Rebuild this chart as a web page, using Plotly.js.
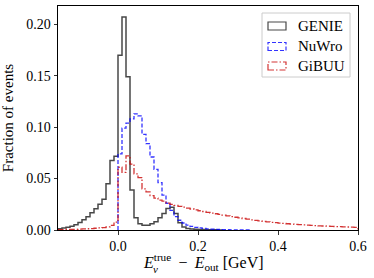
<!DOCTYPE html>
<html>
<head>
<meta charset="utf-8">
<script src="https://cdn.plot.ly/plotly-3.0.1.min.js"></script>
<style>html,body{margin:0;padding:0;background:#fff;}#chart{width:374px;height:278px;}</style>
</head>
<body>
<div id="chart"></div>
<script>
// Histogram binning (75 bins of width 0.01 from -0.15 to 0.60)
const binStart = -0.15;
const binWidth = 0.01;
const seriesNames = ["GENIE", "NuWro", "GiBUU"];

// Fraction of events per bin
const genie = [
  0.0012, 0.0020, 0.0027, 0.0037, 0.0050, 0.0073, 0.0100, 0.0130, 0.0167, 0.0206,
  0.0250, 0.0300, 0.0450, 0.0675, 0.0717,
  0.170, 0.207, 0.149, 0.039, 0.012, 0.006, 0.0045, 0.0045, 0.006, 0.008,
  0.012, 0.016, 0.021, 0.022, 0.016, 0.007, 0.003, 0.0015, 0.0010, 0.0007,
  0.0005, 0.0004, 0.0003, 0.0002, 0.0002, 0.0001, 0, 0, 0, 0,
  0, 0, 0, 0, 0, 0, 0, 0, 0, 0,
  0, 0, 0, 0, 0, 0, 0, 0, 0, 0,
  0, 0, 0, 0, 0, 0, 0, 0, 0, 0
];
const nuwro = [
  0, 0, 0, 0, 0, 0, 0, 0, 0, 0, 0, 0, 0, 0, 0,
  0.074, 0.099, 0.104, 0.108, 0.113, 0.111, 0.093, 0.084, 0.071, 0.059,
  0.046, 0.034, 0.026, 0.019, 0.013, 0.0095, 0.0068, 0.0048, 0.0035, 0.0026,
  0.0020, 0.0015, 0.0011, 0.0008, 0.0006, 0.0005, 0.0004, 0.0003, 0.0002, 0.0002,
  0.0001, 0.0001, 0.0001, 0, 0, 0, 0, 0, 0, 0,
  0, 0, 0, 0, 0, 0, 0, 0, 0, 0,
  0, 0, 0, 0, 0, 0, 0, 0, 0, 0
];
const gibuu = [
  0.0003, 0.0004, 0.0005, 0.0006, 0.0007, 0.0008, 0.0010, 0.0012, 0.0014, 0.0017,
  0.0020, 0.0024, 0.0030, 0.0045, 0.0076,
  0.061, 0.056, 0.072, 0.064, 0.0546, 0.051, 0.040, 0.037, 0.0335, 0.031,
  0.029, 0.028, 0.0262, 0.025, 0.024, 0.023, 0.0222, 0.0213, 0.0204, 0.0195,
  0.0187, 0.018, 0.0172, 0.0165, 0.0158, 0.0151, 0.0144, 0.0137, 0.013, 0.0124,
  0.0118, 0.0112, 0.0106, 0.0099, 0.0094, 0.0089, 0.0084, 0.0079, 0.0075, 0.0071,
  0.0067, 0.0064, 0.0061, 0.0058, 0.0055, 0.0052, 0.0050, 0.0047, 0.0045, 0.0043,
  0.0041, 0.0039, 0.0037, 0.0035, 0.0033, 0.0032, 0.0030, 0.0029, 0.0027, 0.0026
];

const xTickVals = [0.0, 0.2, 0.4, 0.6];
const yTickVals = [0.00, 0.05, 0.10, 0.15, 0.20];

// Build a matplotlib-like "step" outline from bin values
function stepOutline(vals) {
  let first = 0;
  while (first < vals.length && vals[first] === 0) first++;
  let last = vals.length - 1;
  while (last > first && vals[last] === 0) last--;
  const xs = [], ys = [];
  const edge = i => +(binStart + i * binWidth).toFixed(6);
  xs.push(edge(first)); ys.push(0);
  for (let i = first; i <= last; i++) { xs.push(edge(i)); ys.push(vals[i]); }
  xs.push(edge(last + 1)); ys.push(vals[last]);
  xs.push(edge(last + 1)); ys.push(0);
  return {xs, ys};
}

const FONT = "'Liberation Serif', 'Times New Roman', serif";
const styles = [
  {color: "rgba(0,0,0,0.72)", dash: "solid", width: 1.5},
  {color: "rgba(0,0,255,0.8)", dash: "4px,2px", width: 1.3},
  {color: "rgba(200,0,0,0.8)", dash: "6px,2px,1.5px,2px", width: 1.3}
];
const data = [genie, nuwro, gibuu].map((vals, i) => {
  const o = stepOutline(vals);
  return {
    type: "scatter", mode: "lines", x: o.xs, y: o.ys, name: seriesNames[i],
    line: {shape: "hv", color: styles[i].color, dash: styles[i].dash, width: styles[i].width},
    showlegend: false, hoverinfo: "skip"
  };
});

// Legend (drawn with paper-positioned shapes and annotations)
const L = 58, T = 6, W = 300, H = 224;
const px = v => (v - L) / W;
const py = v => (T + H - v) / H;
const shapes = [
  {type: "rect", xref: "paper", yref: "paper", x0: px(262), x1: px(350), y0: py(77), y1: py(13),
   line: {color: "#cccccc", width: 1}, fillcolor: "rgba(255,255,255,0.8)", layer: "above"}
];
const annotations = [];
const rowY = [26, 46.5, 66];
seriesNames.forEach((n, i) => {
  shapes.push({type: "rect", xref: "paper", yref: "paper", x0: px(268), x1: px(286),
    y0: py(rowY[i] + 4), y1: py(rowY[i] - 4),
    line: {color: styles[i].color, width: 1.2, dash: styles[i].dash}, fillcolor: "rgba(0,0,0,0)", layer: "above"});
  annotations.push({xref: "paper", yref: "paper", x: px(296), y: py(rowY[i]), xanchor: "left", yanchor: "middle",
    text: n, showarrow: false, font: {family: FONT, size: 15, color: "#000"}});
});
// x-axis title: E_nu^true - E_out [GeV]
annotations.push({xref: "paper", yref: "paper", x: px(141), y: py(262), xanchor: "left", yanchor: "middle",
  text: "<i>E</i><sup>true</sup>\u2009 − \u2009<i>E</i><sub>out</sub> [GeV]", showarrow: false,
  font: {family: FONT, size: 16, color: "#000"}});
annotations.push({xref: "paper", yref: "paper", x: px(150.5), y: py(268.5), xanchor: "left", yanchor: "middle",
  text: "<i>ν</i>", showarrow: false, font: {family: FONT, size: 11, color: "#000"}});

const layout = {
  width: 374, height: 278,
  margin: {l: L, r: 374 - L - W, t: T, b: 278 - T - H, pad: 0},
  paper_bgcolor: "#fff", plot_bgcolor: "#fff",
  showlegend: false,
  font: {family: FONT, size: 14, color: "#000"},
  xaxis: {
    range: [-0.15, 0.6], tickvals: xTickVals, tickformat: ".1f",
    ticks: "outside", ticklen: 3.5, tickwidth: 0.8, tickcolor: "#000",
    showline: true, mirror: true, linecolor: "#000", linewidth: 1,
    showgrid: false, zeroline: false, tickfont: {family: FONT, size: 14}
  },
  yaxis: {
    range: [0, 0.2178], tickvals: yTickVals, tickformat: ".2f",
    ticks: "outside", ticklen: 3.5, tickwidth: 0.8, tickcolor: "#000",
    showline: true, mirror: true, linecolor: "#000", linewidth: 1,
    showgrid: false, zeroline: false, tickfont: {family: FONT, size: 14},
    title: {text: "Fraction of events", font: {family: FONT, size: 15}, standoff: 8}
  },
  shapes: shapes,
  annotations: annotations
};
Plotly.newPlot("chart", data, layout, {displayModeBar: false, staticPlot: true});
</script>
</body>
</html>
